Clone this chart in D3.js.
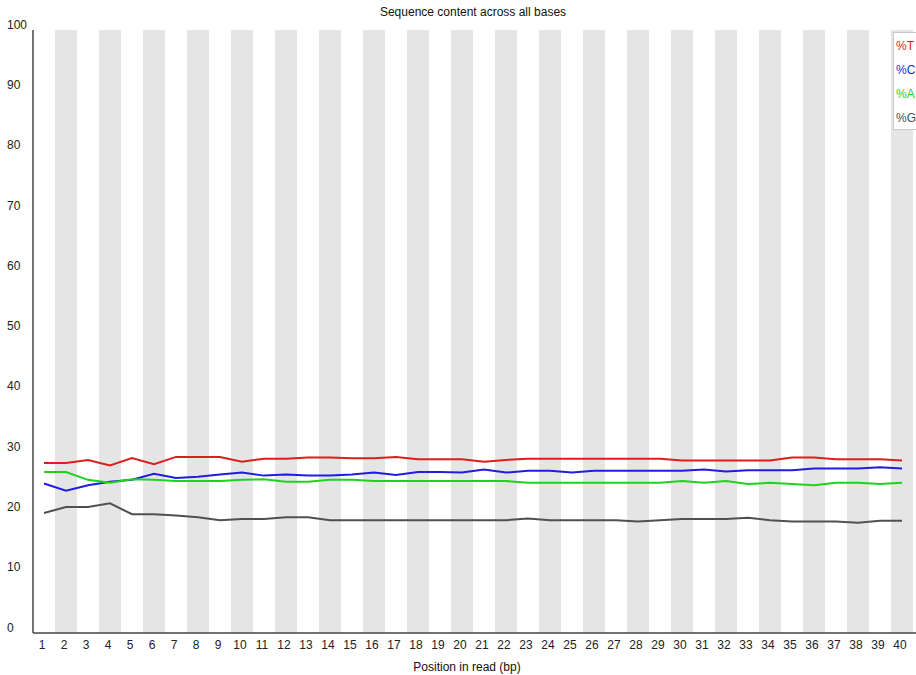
<!DOCTYPE html>
<html>
<head>
<meta charset="utf-8">
<script src="https://cdn.jsdelivr.net/npm/d3@7"></script>
<style>
  body { margin: 0; background: #fff; }
  text { font-family: "Liberation Sans", Arial, sans-serif; }
</style>
</head>
<body>
<div id="chart"></div>
<script>
const positions = d3.range(1, 41);
const yTicks = d3.range(0, 101, 10);

const pctT = [28.2, 28.2, 28.7, 27.8, 29.0, 28.0, 29.2, 29.2, 29.2, 28.4, 28.9, 28.9, 29.1, 29.1,
  29.0, 29.0, 29.2, 28.8, 28.8, 28.8, 28.4, 28.7, 28.9, 28.9, 28.9, 28.9, 28.9,
  28.9, 28.9, 28.6, 28.6, 28.6, 28.6, 28.6, 29.1, 29.1, 28.8, 28.8, 28.8, 28.6];
const pctC = [24.8, 23.6, 24.5, 25.1, 25.4, 26.4, 25.7, 25.9, 26.3, 26.6, 26.1, 26.3, 26.1, 26.1,
  26.3, 26.6, 26.2, 26.7, 26.7, 26.6, 27.1, 26.6, 26.9, 26.9, 26.6, 26.9, 26.9,
  26.9, 26.9, 26.9, 27.1, 26.8, 27.0, 27.0, 27.0, 27.3, 27.3, 27.3, 27.5, 27.3];
const pctA = [26.7, 26.7, 25.4, 24.9, 25.5, 25.4, 25.2, 25.2, 25.2, 25.4, 25.5, 25.1, 25.1, 25.4,
  25.4, 25.2, 25.2, 25.2, 25.2, 25.2, 25.2, 25.2, 24.9, 24.9, 24.9, 24.9, 24.9,
  24.9, 24.9, 25.2, 24.9, 25.2, 24.7, 24.9, 24.7, 24.5, 24.9, 24.9, 24.7, 24.9];
const pctG = [19.9, 20.9, 20.9, 21.5, 19.7, 19.7, 19.5, 19.2, 18.7, 18.9, 18.9, 19.2, 19.2, 18.7,
  18.7, 18.7, 18.7, 18.7, 18.7, 18.7, 18.7, 18.7, 19.0, 18.7, 18.7, 18.7, 18.7,
  18.5, 18.7, 18.9, 18.9, 18.9, 19.1, 18.7, 18.5, 18.5, 18.5, 18.3, 18.6, 18.6];

const seriesNames = ['%T', '%C', '%A', '%G'];
const seriesData = [pctT, pctC, pctA, pctG];
const seriesColors = ['#dc1e1e', '#1e1ee0', '#1ed21e', '#505050'];

var width = 916, height = 675;
var margin = {top: 30, right: 3, bottom: 42, left: 33};

var svg = d3.select('#chart')
  .append('svg')
  .attr('width', width)
  .attr('height', height);

var x = d3.scaleBand()
  .domain(positions)
  .range([margin.left, width - margin.right])
  .padding(0);

var y = d3.scaleLinear()
  .domain([0, 100])
  .range([height - margin.bottom, margin.top]);

// alternating bands
svg.selectAll('.band')
  .data(positions.filter(p => p % 2 === 0))
  .enter()
  .append('rect')
    .attr('x', d => x(d))
    .attr('y', y(100))
    .attr('width', x.bandwidth())
    .attr('height', y(0) - y(100))
    .attr('fill', '#e5e5e5');

// axes lines
svg.append('line')
  .attr('x1', margin.left).attr('x2', margin.left)
  .attr('y1', y(100)).attr('y2', y(0))
  .attr('stroke', '#444').attr('stroke-width', 1.5);
svg.append('line')
  .attr('x1', margin.left).attr('x2', width)
  .attr('y1', y(0)).attr('y2', y(0))
  .attr('stroke', '#444').attr('stroke-width', 1.5);

// y tick labels
svg.selectAll('.ylab')
  .data(yTicks)
  .enter()
  .append('text')
    .attr('x', 7)
    .attr('y', d => y(d) - 4.5)
    .attr('dominant-baseline', 'middle')
    .style('font-size', '12px')
    .attr('fill', '#222')
    .text(d => d);

// x tick labels
svg.selectAll('.xlab')
  .data(positions)
  .enter()
  .append('text')
    .attr('x', d => x(d) + x.bandwidth() / 2 - 2)
    .attr('y', 646)
    .attr('text-anchor', 'middle')
    .attr('dominant-baseline', 'middle')
    .style('font-size', '12px')
    .attr('fill', '#222')
    .text(d => d);

// titles
svg.append('text')
  .attr('x', 473).attr('y', 13)
  .attr('text-anchor', 'middle')
  .attr('dominant-baseline', 'middle')
  .style('font-size', '12px')
  .attr('fill', '#111')
  .text('Sequence content across all bases');

svg.append('text')
  .attr('x', 467).attr('y', 668)
  .attr('text-anchor', 'middle')
  .attr('dominant-baseline', 'middle')
  .style('font-size', '12px')
  .attr('fill', '#111')
  .text('Position in read (bp)');

// lines
var line = d3.line()
  .x((d, i) => x(positions[i]) + x.bandwidth() / 2)
  .y(d => y(d));

seriesData.forEach(function(vals, k) {
  svg.append('path')
    .datum(vals)
    .attr('d', line)
    .attr('fill', 'none')
    .attr('stroke', seriesColors[k])
    .attr('stroke-width', 2);
});

// legend
var legend = svg.append('g');
legend.append('rect')
  .attr('x', 893.5).attr('y', 32.5)
  .attr('width', 40).attr('height', 97)
  .attr('fill', '#fff')
  .attr('stroke', '#c8c8c8');
legend.selectAll('text')
  .data(seriesNames)
  .enter()
  .append('text')
    .attr('x', 896)
    .attr('y', (d, i) => 47 + i * 24)
    .attr('dominant-baseline', 'middle')
    .style('font-size', '12px')
    .attr('fill', (d, i) => seriesColors[i])
    .text(d => d);
</script>
</body>
</html>
